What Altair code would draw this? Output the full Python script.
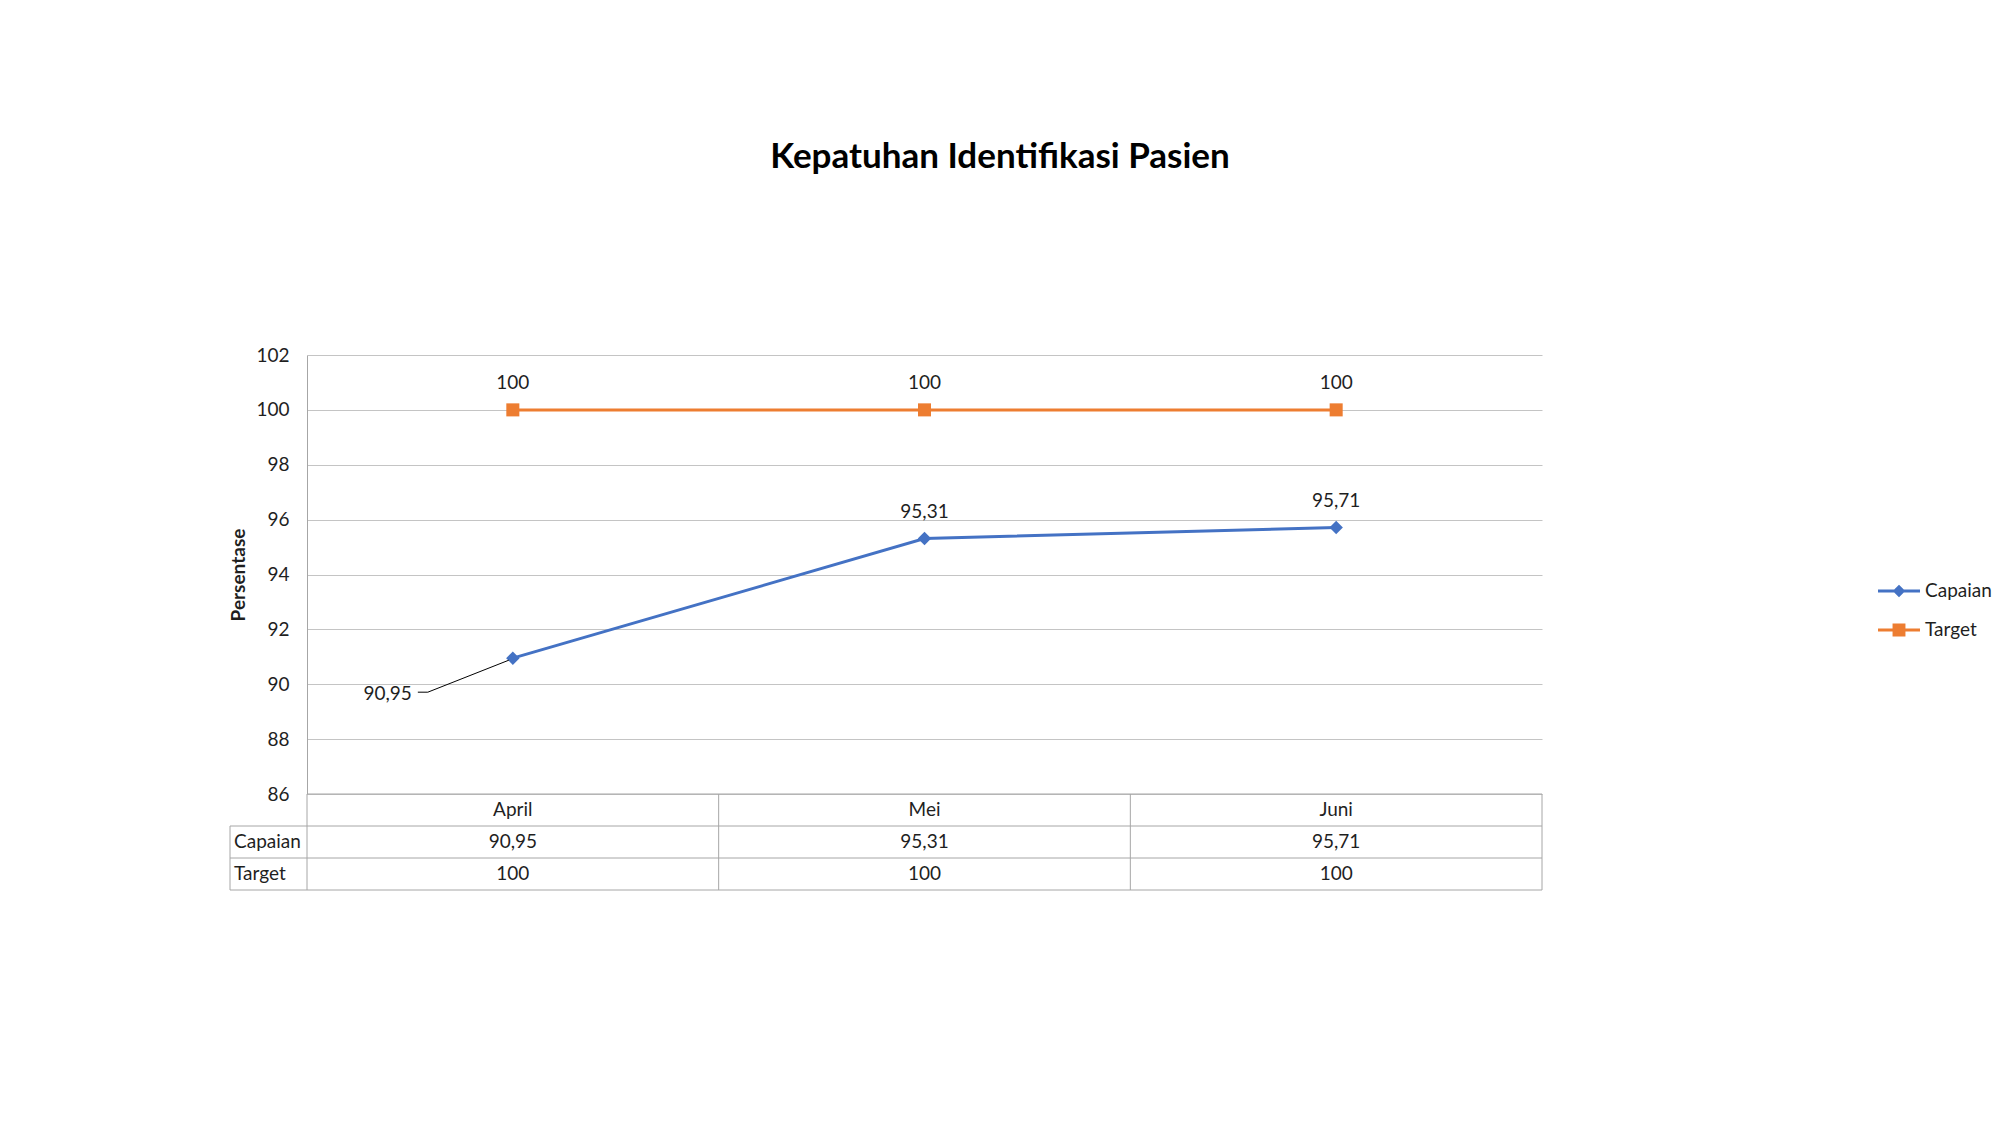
import altair as alt
import pandas as pd

# ---------------- data ----------------
months = ["April", "Mei", "Juni"]
capaian = [90.95, 95.31, 95.71]
target = [100, 100, 100]
capaian_labels = ["90,95", "95,31", "95,71"]
target_labels = ["100", "100", "100"]
series_names = ["Capaian", "Target"]
series_colors = ["#4472C4", "#ED7D31"]
y_ticks = [86, 88, 90, 92, 94, 96, 98, 100, 102]

# ---------------- layout ----------------
FONT = "Lato"
FS = 19
W, H = 1235, 439
ROW = 32
LEFT_COL = 77
TEXT = "#1f1f1f"
GRID = "#C4C4C4"
BORDER = "#A6A6A6"
BLUE, ORANGE = series_colors

rows = []
for m, v, l in zip(months, capaian, capaian_labels):
    rows.append(dict(month=m, series="Capaian", value=v, label=l))
for m, v, l in zip(months, target, target_labels):
    rows.append(dict(month=m, series="Target", value=v, label=l))
df = pd.DataFrame(rows)

x_enc = alt.X("month:N", sort=months,
              scale=alt.Scale(type="point", padding=0.5, domain=months), axis=None)
y_scale = alt.Scale(domain=[86, 102], nice=False, zero=False)
y_axis_def = alt.Axis(
    values=y_ticks, grid=True, gridColor=GRID, gridWidth=1,
    domainColor=BORDER, domainWidth=1, ticks=False,
    labelFont=FONT, labelFontSize=FS, labelColor=TEXT, labelPadding=18,
    title="Persentase", titleFont=FONT, titleFontSize=19, titleFontWeight="bold",
    titleColor=TEXT, titleX=-69, titleY=H / 2, titleAngle=-90,
    titleAlign="center", titleBaseline="middle")
y_enc = alt.Y("value:Q", scale=y_scale, axis=y_axis_def)

base = alt.Chart(df)
color_cond = alt.condition("datum.series == 'Capaian'", alt.value(BLUE), alt.value(ORANGE))

lines = base.mark_line(strokeWidth=3).encode(
    x=x_enc, y=y_enc, detail="series:N", color=color_cond)

cap = base.transform_filter("datum.series == 'Capaian'")
tgt = base.transform_filter("datum.series == 'Target'")

cap_pts = cap.mark_point(shape="diamond", filled=True, size=180, opacity=1, color=BLUE).encode(
    x=x_enc, y=y_enc)
tgt_pts = tgt.mark_point(shape="square", filled=True, size=170, opacity=1, color=ORANGE).encode(
    x=x_enc, y=y_enc)

tgt_lbl = tgt.mark_text(font=FONT, fontSize=FS, color=TEXT, dy=-27, baseline="middle").encode(
    x=x_enc, y=y_enc, text="label:N")
cap_lbl_up = cap.transform_filter("datum.month != 'April'").mark_text(
    font=FONT, fontSize=FS, color=TEXT, dy=-27, baseline="middle").encode(
    x=x_enc, y=y_enc, text="label:N")
cap_april = cap.transform_filter("datum.month == 'April'")
cap_lbl_dn = cap_april.mark_text(
    font=FONT, fontSize=FS, color=TEXT, dx=-101, dy=36, align="right", baseline="middle").encode(
    x=x_enc, y=y_enc, text="label:N")
leader1 = cap_april.mark_rule(color="#000000", strokeWidth=1,
                              xOffset=-85, yOffset=34, x2Offset=-4, y2Offset=2).encode(
    x=x_enc, x2="month:N", y=y_enc, y2="value:Q")
leader2 = cap_april.mark_rule(color="#000000", strokeWidth=1,
                              xOffset=-95, yOffset=34, x2Offset=-85, y2Offset=34).encode(
    x=x_enc, x2="month:N", y=y_enc, y2="value:Q")

# ---------------- data table under the plot ----------------
segs = [
    (0, W, H, H),
    (-LEFT_COL, W, H + ROW, H + ROW),
    (-LEFT_COL, W, H + 2 * ROW, H + 2 * ROW),
    (-LEFT_COL, W, H + 3 * ROW, H + 3 * ROW),
    (-LEFT_COL, -LEFT_COL, H + ROW, H + 3 * ROW),
    (0, 0, H, H + 3 * ROW),
    (W / 3, W / 3, H, H + 3 * ROW),
    (2 * W / 3, 2 * W / 3, H, H + 3 * ROW),
    (W, W, H, H + 3 * ROW),
]
seg_df = pd.DataFrame(segs, columns=["x1", "x2", "y1", "y2"])
grid_rules = alt.Chart(seg_df).mark_rule(color=BORDER, strokeWidth=1).encode(
    x=alt.X("x1:Q", scale=None), x2="x2:Q",
    y=alt.Y("y1:Q", scale=None), y2="y2:Q")

hdr = alt.Chart(pd.DataFrame({"month": months})).mark_text(
    font=FONT, fontSize=FS, color=TEXT, baseline="middle").encode(
    x=x_enc, y=alt.value(H + ROW / 2), text="month:N")
tbl_cap = cap.mark_text(font=FONT, fontSize=FS, color=TEXT, baseline="middle").encode(
    x=x_enc, y=alt.value(H + ROW * 1.5), text="label:N")
tbl_tgt = tgt.mark_text(font=FONT, fontSize=FS, color=TEXT, baseline="middle").encode(
    x=x_enc, y=alt.value(H + ROW * 2.5), text="label:N")
row_names = alt.Chart(pd.DataFrame({"series": series_names,
                                    "ypix": [H + ROW * 1.5, H + ROW * 2.5]})).mark_text(
    font=FONT, fontSize=FS, color=TEXT, align="left", baseline="middle").encode(
    x=alt.value(-LEFT_COL + 4), y=alt.Y("ypix:Q", scale=None), text="series:N")

# ---------------- legend ----------------
legend_paths = [
    "M-1.4,-0.1H1.4V0.1H-1.4Z M0,-0.42L0.42,0L0,0.42L-0.42,0Z",
    "M-1.4,-0.1H1.4V0.1H-1.4Z M-0.43,-0.43H0.43V0.43H-0.43Z",
]
leg_kw = dict(orient="none", legendX=1577, legendY=221, title=None, padding=0,
              symbolSize=900, symbolStrokeWidth=0, labelFont=FONT, labelFontSize=FS,
              labelColor=TEXT, labelOffset=11, rowPadding=14)
legend_layer = alt.Chart(pd.DataFrame({"series": series_names})).transform_filter(
    "false").mark_point(filled=True, opacity=1).encode(
    color=alt.Color("series:N", scale=alt.Scale(domain=series_names, range=series_colors),
                    legend=alt.Legend(**leg_kw)),
    shape=alt.Shape("series:N", scale=alt.Scale(domain=series_names, range=legend_paths),
                    legend=alt.Legend(**leg_kw)))

chart = alt.layer(
    lines, cap_pts, tgt_pts, tgt_lbl, cap_lbl_up, cap_lbl_dn, leader1, leader2,
    grid_rules, hdr, tbl_cap, tbl_tgt, row_names, legend_layer
).properties(
    width=W, height=H,
    title=alt.TitleParams("Kepatuhan Identifikasi Pasien", font=FONT, fontSize=35,
                          fontWeight="bold", color="#000000", anchor="middle",
                          frame="group", dx=75.5, offset=143, baseline="alphabetic"),
    autosize=alt.AutoSizeParams(type="none"),
    padding={"left": 307, "top": 355, "right": 458, "bottom": 331},
    background="white",
).configure_view(stroke=None)

chart.save("out.html", embed_options={"renderer": "svg", "actions": False})
